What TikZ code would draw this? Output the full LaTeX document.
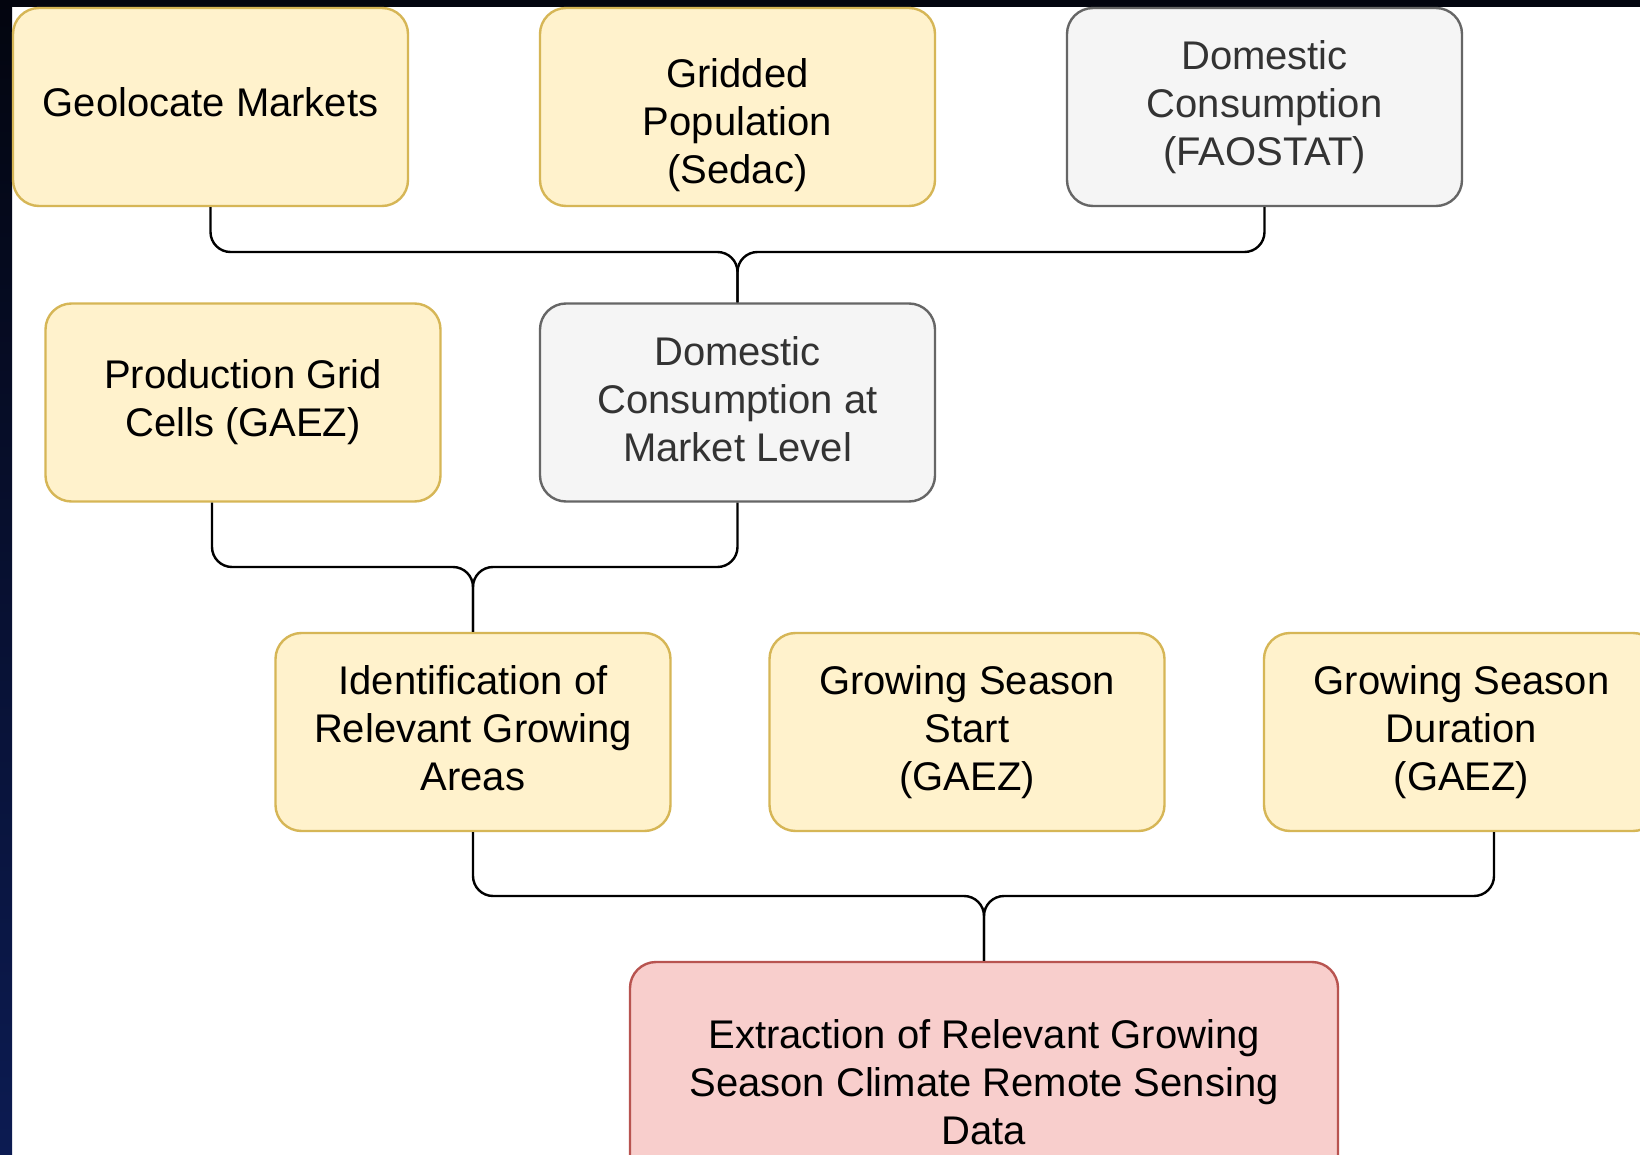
\documentclass[tikz,border=0pt]{standalone}
\usepackage{fontspec}
\setmainfont{Liberation Sans}
\begin{document}
\begin{tikzpicture}[x=0.5pt,y=-0.5pt,
  box/.style={rectangle, rounded corners=13pt, line width=1.2pt, minimum width=197.5pt, minimum height=99pt, align=center, inner sep=0pt, font=\fontsize{20}{24}\selectfont},
  ybox/.style={box, draw=ybd, fill=yfl, text=black},
  gbox/.style={box, draw=gbd, fill=gfl, text=gtx},
  rbox/.style={box, draw=rbd, fill=rfl, text=black},
  conn/.style={draw=black, line width=1.2pt, rounded corners=10pt}]
\definecolor{yfl}{HTML}{FFF2CC}
\definecolor{ybd}{HTML}{D6B656}
\definecolor{gfl}{HTML}{F5F5F5}
\definecolor{gbd}{HTML}{666666}
\definecolor{gtx}{HTML}{333333}
\definecolor{rfl}{HTML}{F8CECC}
\definecolor{rbd}{HTML}{B85450}
\definecolor{bgtop}{HTML}{03050F}
\definecolor{bgbot}{HTML}{0C1B52}
\useasboundingbox (0,0) rectangle (1640,1155);
\clip (0,0) rectangle (1640,1155);
\fill[white] (0,0) rectangle (1640,1155);
\shade[top color=bgtop, bottom color=bgbot] (0,0) rectangle (12,1155);
\fill[bgtop] (0,0) rectangle (1640,7);

% row 1
\node[ybox] (geo) at (210.5,107) {\raisebox{4.5pt}{Geolocate Markets}};
\node[ybox, label={[name=gridtxt, align=center, font=\fontsize{20}{24}\selectfont, yshift=-9pt]center:Gridded\\Population\\(Sedac)}] (grid) at (737.5,107) {};
\node[gbox] (fao) at (1264.5,107) {Domestic\\Consumption\\(FAOSTAT)};

% row 2
\node[ybox] (prod) at (243,402.5) {Production Grid\\Cells (GAEZ)};
\node[gbox, label={[name=mkttxt, align=center, font=\fontsize{20}{24}\selectfont, text=gtx, yshift=1.5pt]center:Domestic\\Consumption at\\Market Level}] (mkt) at (737.5,402.5) {};

% row 3
\node[ybox, label={[name=identtxt, align=center, font=\fontsize{20}{24}\selectfont, yshift=2pt]center:Identification of\\Relevant Growing\\Areas}] (ident) at (473,732) {};
\node[ybox] (gss) at (967,732) {Growing Season\\Start\\(GAEZ)};
\node[ybox] (gsd) at (1461.5,732) {Growing Season\\Duration\\(GAEZ)};

% row 4
\node[rbox, minimum width=354pt, minimum height=120pt] (ext) at (984,1082) {Extraction of Relevant Growing\\Season Climate Remote Sensing\\Data};

% junctions
\coordinate (j1) at (737.5,252);
\coordinate (j2) at (473,567);
\coordinate (j3) at (984,896);

\draw[conn] (geo.south) |- (j1) -- (mkt.north);
\draw[conn] (fao.south) |- (j1) -- (mkt.north);
\draw[conn] ([xshift=-15.5pt]prod.south) |- (j2) -- (ident.north);
\draw[conn] (mkt.south) |- (j2) -- (ident.north);
\draw[conn] (ident.south) |- (j3) -- (ext.north);
\draw[conn] ([xshift=16.25pt]gsd.south) |- (j3) -- (ext.north);
\end{tikzpicture}
\end{document}
